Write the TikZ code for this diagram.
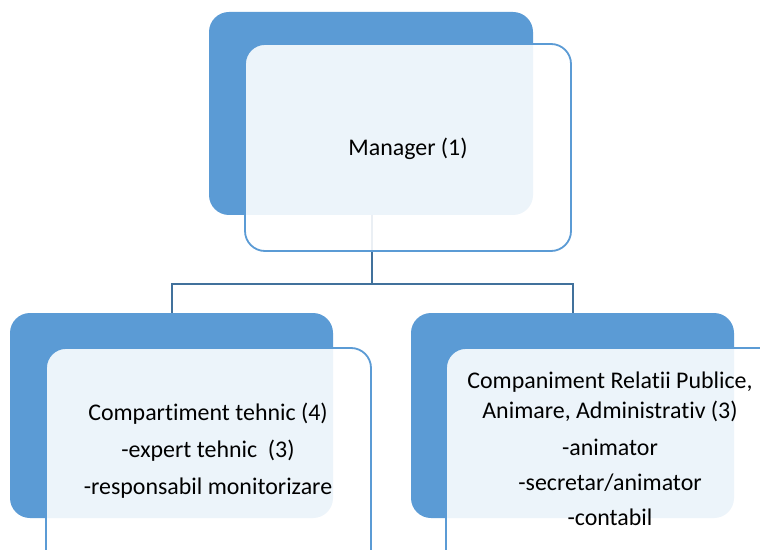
\documentclass[tikz,border=0pt]{standalone}
\usepackage{fontspec}
\setmainfont{Carlito}[Ligatures=NoCommon]
\definecolor{accent}{HTML}{5B9BD5}
\definecolor{linkc}{HTML}{41719C}
\begin{document}
\begin{tikzpicture}[x=1bp,y=-1bp,
  backbox/.style={fill=accent, rounded corners=20bp},
  frontbox/.style={draw=accent, line width=1.8bp, fill=white, fill opacity=0.89, rounded corners=20bp},
  link/.style={draw=linkc, line width=2.2bp},
  label/.style={align=center, text=black, inner sep=0pt}]
\useasboundingbox (0,0) rectangle (760,550);
\clip (0,0) rectangle (760,550);
\fill[white] (0,0) rectangle (760,550);
% back boxes
\path[backbox] (209,12) rectangle (533,215);
\path[backbox] (10,313) rectangle (333,518);
\path[backbox] (411,313) rectangle (734,518);
\coordinate (mtop) at (372,215);
\coordinate (lt) at (172,313);
\coordinate (rt) at (573,313);
\coordinate (bar) at (372,284);
\draw[link] (mtop) -- (bar) -| (lt);
\draw[link] (bar) -| (rt);
% front boxes
\path[frontbox] (245,44) rectangle (571,251);
\path[frontbox] (46,348) rectangle (371,570);
\path[frontbox] (446,348) rectangle (790,570);
% labels
\node[label, font=\fontsize{24}{32}\selectfont] (mgr) at (408,149) {Manager (1)};
\node[label, font=\fontsize{24}{37}\selectfont] (ct) at (208,451) {Compartiment tehnic (4)\\-expert tehnic~~(3)\\-responsabil monitorizare};
\node[label, font=\fontsize{24}{30}\selectfont] (cr1) at (610,397) {Companiment Relatii Publice,\\Animare, Administrativ (3)};
\node[label, font=\fontsize{24}{35}\selectfont] (cr2) at (610,482) {-animator\\-secretar/animator\\-contabil};
\end{tikzpicture}
\end{document}
